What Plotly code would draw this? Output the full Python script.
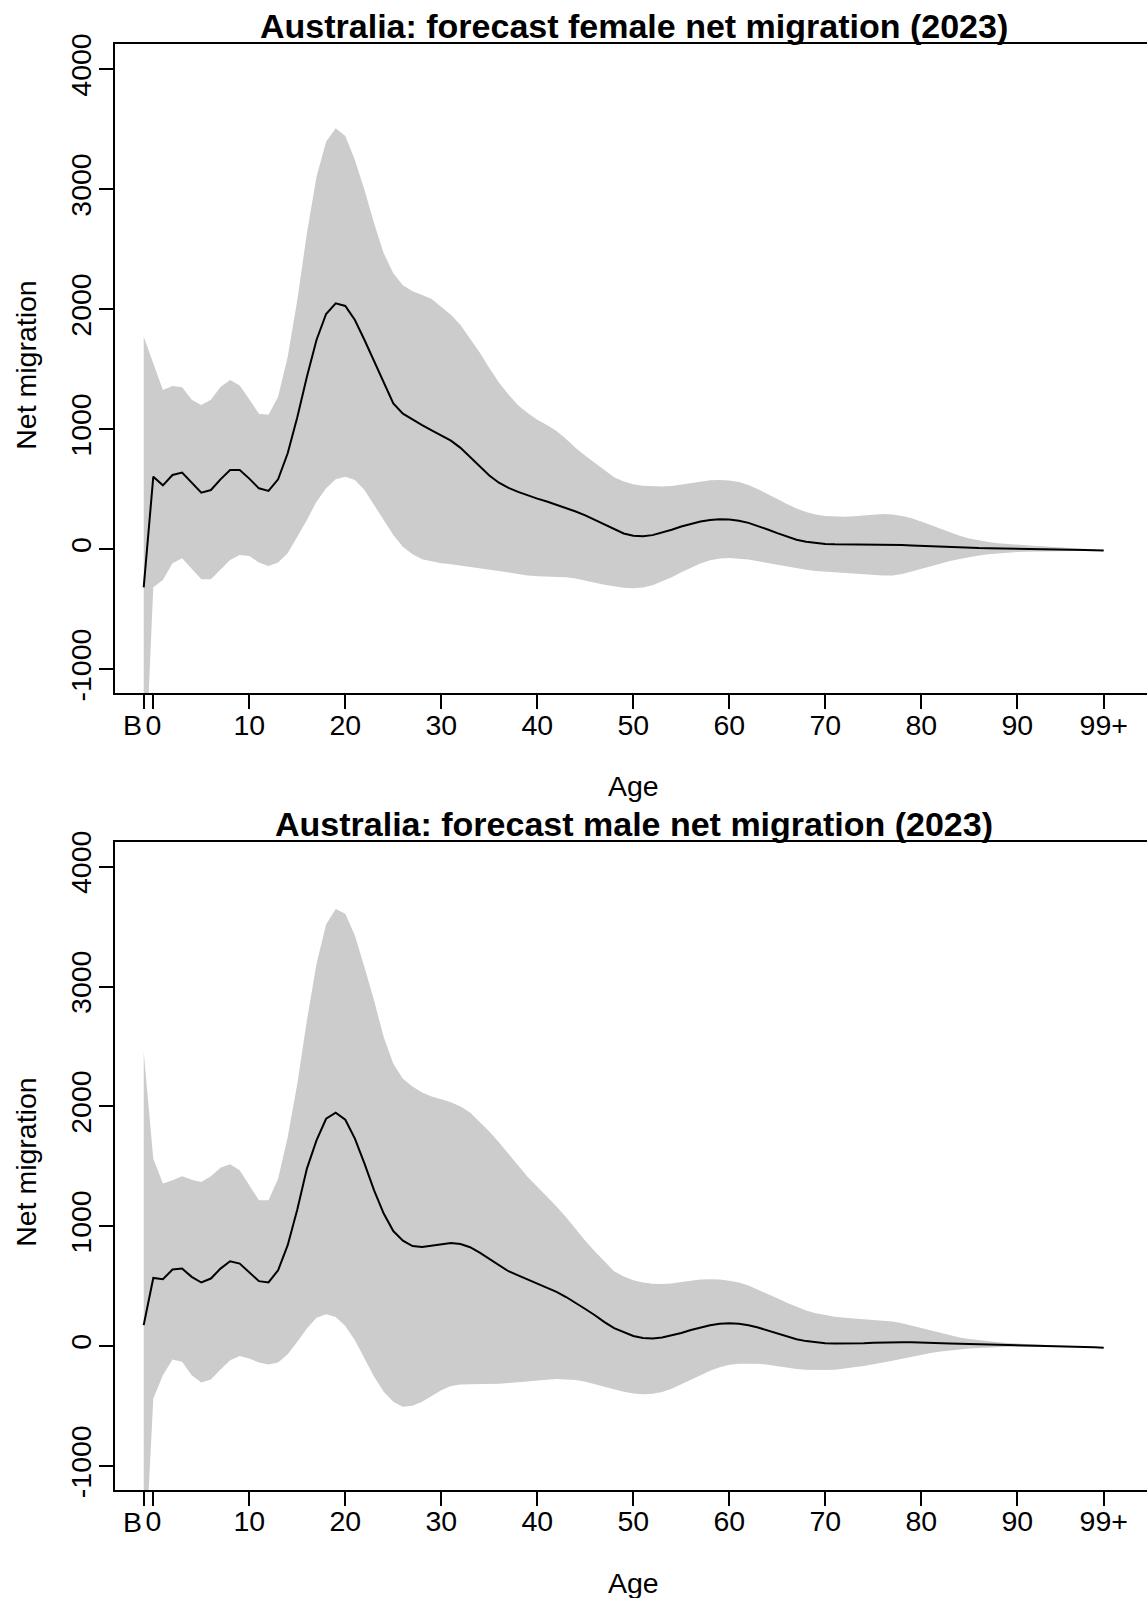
import plotly.graph_objects as go

# ---------------------------------------------------------------------------
# Data: forecast net migration by single year of age (B = births, 0 .. 99+)
# ---------------------------------------------------------------------------
AGE_POS = [-1] + list(range(100))

TICK_POS = [-1, 0, 10, 20, 30, 40, 50, 60, 70, 80, 90, 99]
TICK_TEXT = ["B", "0", "10", "20", "30", "40", "50", "60", "70", "80", "90", "99+"]
Y_TICKS = [-1000, 0, 1000, 2000, 3000, 4000]

female_mean = [
    -317,
    605, 533, 619, 639, 555, 472, 494, 583, 661, 661,
    589, 508, 486, 583, 800, 1100, 1438, 1744, 1961, 2050,
    2028, 1911, 1744, 1564, 1383, 1215, 1130, 1080, 1035, 990,
    950, 905, 845, 770, 690, 615, 555, 512, 478, 448,
    422, 398, 372, 345, 315, 282, 245, 205, 165, 132,
    113, 108, 118, 138, 163, 190, 213, 232, 245, 250,
    248, 238, 220, 195, 165, 135, 105, 80, 62, 50,
    44, 41, 40, 40, 41, 42, 42, 40, 36, 32,
    28, 24, 20, 16, 13, 11, 10, 9, 8, 8,
    7, 6, 5, 4, 3, 1, -2, -5, -8, -11,
]
female_upper = [
    1772,
    1550, 1328, 1361, 1350, 1247, 1203, 1247, 1352, 1411, 1365,
    1250, 1129, 1122, 1272, 1605, 2078, 2633, 3105, 3397, 3508,
    3444, 3244, 2994, 2717, 2467, 2300, 2200, 2150, 2120, 2085,
    2020, 1955, 1870, 1760, 1640, 1510, 1390, 1290, 1200, 1135,
    1080, 1035, 985, 920, 845, 780, 720, 655, 600, 565,
    542, 530, 524, 524, 528, 540, 555, 568, 576, 578,
    574, 560, 535, 500, 462, 420, 378, 340, 310, 290,
    278, 272, 272, 275, 282, 290, 294, 290, 278, 258,
    232, 203, 172, 140, 112, 90, 73, 60, 50, 43,
    37, 32, 27, 23, 19, 15, 10, 5, 0, -6,
]
female_lower = [
    -2150,
    -317, -256, -117, -75, -158, -250, -250, -172, -89, -47,
    -56, -111, -139, -111, -33, 105, 244, 397, 508, 583,
    605, 578, 494, 369, 244, 119, 22, -42, -83, -103,
    -117, -125, -136, -144, -153, -164, -181, -194, -208, -219,
    -225, -228, -228, -233, -244, -258, -278, -295, -310, -320,
    -325, -318, -300, -268, -232, -192, -152, -118, -92, -77,
    -72, -76, -86, -100, -115, -132, -147, -160, -171, -180,
    -186, -190, -195, -200, -207, -214, -219, -218, -205, -185,
    -162, -140, -118, -98, -80, -64, -51, -41, -33, -27,
    -23, -20, -18, -16, -15, -15, -15, -15, -15, -15,
]

male_mean = [
    175,
    569, 558, 639, 647, 578, 531, 564, 647, 708, 689,
    614, 542, 531, 633, 842, 1140, 1481, 1717, 1897, 1947,
    1889, 1731, 1522, 1300, 1106, 960, 880, 835, 828, 838,
    853, 861, 852, 825, 780, 728, 675, 625, 590, 555,
    525, 490, 453, 410, 362, 310, 258, 200, 150, 115,
    85, 68, 64, 72, 90, 110, 135, 158, 175, 187,
    191, 187, 175, 155, 130, 105, 80, 58, 42, 31,
    25, 22, 21, 22, 25, 28, 31, 33, 33, 32,
    31, 29, 26, 23, 20, 18, 16, 14, 13, 12,
    11, 9, 8, 6, 4, 2, -1, -5, -9, -14,
]
male_upper = [
    2453,
    1564, 1356, 1383, 1417, 1389, 1369, 1417, 1489, 1517, 1467,
    1342, 1217, 1217, 1397, 1744, 2189, 2717, 3189, 3517, 3647,
    3606, 3425, 3161, 2883, 2578, 2356, 2230, 2165, 2115, 2082,
    2060, 2035, 2000, 1950, 1870, 1790, 1700, 1605, 1505, 1410,
    1330, 1250, 1165, 1075, 975, 880, 790, 705, 625, 580,
    550, 530, 520, 518, 522, 535, 548, 556, 558, 555,
    545, 530, 505, 472, 439, 400, 363, 328, 298, 275,
    258, 246, 237, 231, 226, 221, 216, 205, 190, 170,
    148, 127, 106, 88, 72, 60, 50, 41, 33, 27,
    21, 16, 12, 9, 6, 3, 0, -3, -5, -7,
]
male_lower = [
    -2030,
    -436, -242, -111, -131, -242, -303, -278, -194, -117, -83,
    -103, -136, -153, -136, -67, 36, 147, 236, 267, 244,
    169, 50, -103, -256, -381, -464, -506, -497, -464, -417,
    -367, -333, -319, -317, -317, -316, -314, -308, -303, -294,
    -286, -278, -275, -278, -283, -297, -317, -340, -362, -381,
    -395, -402, -398, -382, -355, -318, -278, -242, -205, -175,
    -155, -146, -143, -146, -155, -167, -180, -190, -197, -200,
    -200, -196, -188, -177, -165, -152, -138, -122, -105, -88,
    -72, -58, -45, -35, -27, -20, -15, -10, -7, -5,
    -4, -3, -3, -3, -4, -5, -7, -9, -12, -15,
]

TITLES = [
    "Australia: forecast female net migration (2023)",
    "Australia: forecast male net migration (2023)",
]
X_TITLE = "Age"
Y_TITLE = "Net migration"

# ---------------------------------------------------------------------------
# Page geometry (pixels)
# ---------------------------------------------------------------------------
W, H = 1147, 1598
FONT = "Liberation Sans, Arial, Helvetica, sans-serif"
BASE = 28.5          # tick labels and axis titles
MAIN = 34            # panel titles
BAND = "#CCCCCC"
PLOT_LEFT = 115
PANELS_PX = [(44.3, 693.3), (841.7, 1490.0)]   # (top, bottom) of each plot box


def py(px):
    return 1 - px / H


fig = go.Figure()

series = [
    (female_upper, female_mean, female_lower),
    (male_upper, male_mean, male_lower),
]

for i, (upper, mean, lower) in enumerate(series):
    xa = "x" if i == 0 else "x2"
    ya = "y" if i == 0 else "y2"
    fig.add_trace(go.Scatter(
        x=AGE_POS, y=lower, mode="lines", line=dict(width=0, color=BAND),
        xaxis=xa, yaxis=ya, showlegend=False, hoverinfo="skip"))
    fig.add_trace(go.Scatter(
        x=AGE_POS, y=upper, mode="lines", line=dict(width=0, color=BAND),
        fill="tonexty", fillcolor=BAND,
        xaxis=xa, yaxis=ya, showlegend=False, hoverinfo="skip"))
    fig.add_trace(go.Scatter(
        x=AGE_POS, y=mean, mode="lines", line=dict(width=2, color="black"),
        xaxis=xa, yaxis=ya, showlegend=False))

axis_common = dict(
    showline=True, linecolor="black", linewidth=2,
    ticks="outside", ticklen=14, tickwidth=2, tickcolor="black",
    showgrid=False, zeroline=False, automargin=False,
    tickfont=dict(family=FONT, size=BASE, color="black"),
)

x_ticktext = [""] + TICK_TEXT[1:]   # "B" is set beside its tick below

layout = dict(
    width=W, height=H,
    margin=dict(l=0, r=0, t=0, b=0, pad=0, autoexpand=False),
    paper_bgcolor="white", plot_bgcolor="white",
    showlegend=False,
    font=dict(family=FONT, color="black"),
)

annotations = []
for i, (top_px, bot_px) in enumerate(PANELS_PX):
    sx = "" if i == 0 else "2"
    layout["xaxis" + sx] = dict(
        axis_common, domain=[PLOT_LEFT / W, 1.0], range=[-3.99, 103.51],
        tickvals=TICK_POS, ticktext=x_ticktext, tickangle=0,
        ticklabelstandoff=-9,
        mirror=True, anchor="y" + sx,
    )
    layout["yaxis" + sx] = dict(
        axis_common, domain=[py(bot_px), py(top_px)], range=[-1200, 4208],
        tickvals=Y_TICKS, ticktext=[str(v) for v in Y_TICKS],
        tickangle=-90, ticklabelstandoff=-3,
        mirror=False, anchor="x" + sx,
    )
    # panel title
    annotations.append(dict(
        text="<b>" + TITLES[i] + "</b>", x=634 / W, y=py(top_px + 3),
        xref="paper", yref="paper", xanchor="center", yanchor="bottom",
        showarrow=False, font=dict(family=FONT, size=MAIN, color="black")))
    # x-axis title
    annotations.append(dict(
        text=X_TITLE, x=633 / W, y=py(bot_px + 93),
        xref="paper", yref="paper", xanchor="center", yanchor="middle",
        showarrow=False, font=dict(family=FONT, size=BASE, color="black")))
    # y-axis title
    annotations.append(dict(
        text=Y_TITLE, x=26 / W, y=py((top_px + bot_px) / 2 - 3),
        xref="paper", yref="paper", xanchor="center", yanchor="middle",
        textangle=-90, showarrow=False,
        font=dict(family=FONT, size=BASE, color="black")))
    # "B" tick label, set just left of its tick
    annotations.append(dict(
        text=TICK_TEXT[0], x=TICK_POS[0], y=py(bot_px + 14),
        xref="x" + sx, yref="paper", xanchor="right", yanchor="top",
        showarrow=False, font=dict(family=FONT, size=BASE, color="black")))

layout["annotations"] = annotations
fig.update_layout(**layout)

fig.write_html("out.html")
